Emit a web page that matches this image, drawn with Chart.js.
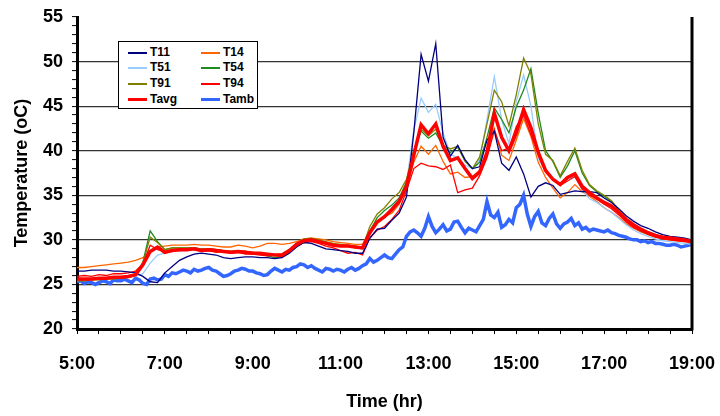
<!DOCTYPE html>
<html>
<head>
<meta charset="utf-8">
<script src="https://cdn.jsdelivr.net/npm/chart.js@4.4.0/dist/chart.umd.min.js"></script>
<style>
body{margin:0;background:#fff;}
#wrap{position:relative;width:720px;height:416px;}
#legend{position:absolute;left:118px;top:41px;width:138px;height:66px;border:1px solid #000;background:#fff;
  font:bold 12px "Liberation Sans",Arial,sans-serif;color:#000;}
.item{position:absolute;height:14px;line-height:14px;white-space:nowrap;}
.item i{display:inline-block;width:19px;vertical-align:middle;margin-right:3px;}
</style>
</head>
<body>
<div id="wrap">
<canvas id="chart" width="720" height="416"></canvas>
<div id="legend"></div>
</div>
<script>
// time axis: readings every 10 min (probes) and every 5 min (ambient)
var times10 = [];
for (var i = 0; i <= 84; i++) times10.push(5 + i / 6);
var times5 = [];
for (var j = 0; j <= 168; j++) times5.push(5 + j / 12);

var xTickLabels = ['5:00', '7:00', '9:00', '11:00', '13:00', '15:00', '17:00', '19:00'];

var t11 = [
 26.5, 26.5, 26.6, 26.6, 26.6, 26.5,
 26.5, 26.4, 26.3, 25.9, 25.3, 25.2,
 26.3, 27.0, 27.7, 28.1, 28.4, 28.5,
 28.4, 28.3, 28.0, 27.9, 28.0, 28.1,
 28.1, 28.0, 28.0, 27.9, 28.0, 28.5,
 29.2, 29.7, 29.6, 29.3, 29.0, 28.9,
 28.8, 28.7, 28.5, 28.5, 30.2, 31.2,
 31.3, 32.2, 33.0, 34.8, 42.0, 50.8,
 47.8, 52.0, 41.5, 39.4, 40.6, 39.0,
 38.0, 38.2, 41.2, 42.2, 38.6, 37.8,
 39.3, 37.4, 34.8, 36.0, 36.4, 36.1,
 35.1, 35.3, 35.5, 35.4, 35.4, 35.3,
 34.7, 34.2, 33.5, 32.7, 32.1, 31.6,
 31.3, 30.9, 30.6, 30.4, 30.3, 30.2,
 30.0];

var t14 = [
 26.9, 26.9, 27.0, 27.1, 27.2, 27.3,
 27.4, 27.5, 27.7, 28.0, 28.7, 29.2,
 29.3, 29.4, 29.4, 29.4, 29.5, 29.4,
 29.4, 29.3, 29.2, 29.2, 29.4, 29.3,
 29.1, 29.3, 29.6, 29.6, 29.5, 29.6,
 29.8, 30.1, 30.2, 30.1, 30.0, 29.8,
 29.7, 29.6, 29.5, 29.5, 31.0, 32.1,
 32.6, 33.0, 34.0, 36.0, 38.7, 40.5,
 39.6, 40.6, 38.8, 37.4, 37.6, 37.0,
 37.1, 37.8, 39.5, 42.5, 39.5, 38.9,
 41.2, 43.6, 41.6, 38.7, 37.0, 35.8,
 34.7, 35.3, 36.2, 35.4, 34.9, 34.3,
 33.6, 33.1, 32.5, 31.8, 31.3, 30.9,
 30.6, 30.3, 30.1, 30.0, 29.9, 29.8,
 29.7];

var t51 = [
 25.5, 25.5, 25.6, 25.6, 25.7, 25.7,
 25.8, 25.8, 25.9, 26.2, 27.4, 28.3,
 28.5, 28.7, 28.8, 28.8, 28.9, 28.8,
 28.8, 28.8, 28.7, 28.6, 28.7, 28.6,
 28.5, 28.5, 28.4, 28.3, 28.4, 28.8,
 29.5, 29.9, 30.0, 29.8, 29.6, 29.4,
 29.3, 29.3, 29.2, 29.2, 30.8, 31.9,
 32.5, 33.6, 34.6, 36.3, 42.3, 45.9,
 44.3, 45.2, 42.0, 39.6, 39.2, 38.4,
 38.0, 39.0, 43.5, 48.3, 43.5, 40.8,
 45.5, 48.5, 45.0, 39.2, 37.6, 36.8,
 36.3, 36.8, 37.1, 35.6, 34.6, 34.2,
 33.6, 33.1, 32.4, 31.7, 31.1, 30.7,
 30.4, 30.1, 29.9, 29.8, 29.7, 29.6,
 29.5];

var t54 = [
 25.5, 25.5, 25.6, 25.6, 25.7, 25.7,
 25.8, 25.9, 26.1, 27.5, 31.0, 29.8,
 28.9, 29.1, 29.1, 29.1, 29.1, 29.0,
 29.0, 28.9, 28.8, 28.7, 28.8, 28.7,
 28.6, 28.5, 28.2, 28.0, 28.1, 28.7,
 29.5, 30.0, 30.1, 29.9, 29.7, 29.5,
 29.4, 29.3, 29.1, 29.0, 31.0, 32.5,
 33.3, 33.9, 34.7, 36.5, 40.0, 42.2,
 41.4, 42.0, 40.5, 39.8, 40.4, 38.9,
 38.0, 38.7, 41.5, 44.8, 43.5, 42.0,
 44.9, 46.8, 49.2, 44.2, 40.0, 38.8,
 37.0, 38.3, 40.0, 37.5, 36.1, 35.4,
 34.9, 34.3, 33.3, 32.3, 31.5, 31.0,
 30.6, 30.4, 30.2, 30.1, 30.0, 29.9,
 29.9];

var t91 = [
 25.4, 25.4, 25.5, 25.5, 25.6, 25.6,
 25.7, 25.8, 26.0, 27.4, 30.3, 29.7,
 28.9, 29.1, 29.1, 29.1, 29.1, 29.0,
 29.0, 28.9, 28.8, 28.7, 28.8, 28.7,
 28.6, 28.5, 28.4, 28.3, 28.4, 28.9,
 29.6, 30.1, 30.2, 30.0, 29.8, 29.6,
 29.5, 29.4, 29.3, 29.2, 31.5, 32.9,
 33.6, 34.6, 35.3, 36.8, 40.0, 42.4,
 41.7, 42.4, 40.6, 40.2, 40.5, 38.8,
 38.0, 39.3, 43.0, 46.8, 45.5, 42.8,
 46.3, 50.4, 48.6, 43.0, 39.6, 38.9,
 37.2, 38.8, 40.3, 37.8, 36.2, 35.5,
 35.0, 34.4, 33.4, 32.4, 31.6, 31.1,
 30.7, 30.4, 30.2, 30.1, 30.0, 29.9,
 29.9];

var t94 = [
 25.9, 26.0, 25.9, 26.1, 26.0, 26.2,
 26.2, 26.3, 26.5, 27.3, 29.4, 28.9,
 28.7, 28.9, 28.8, 29.0, 28.9, 28.7,
 28.8, 28.6, 28.7, 28.5, 28.6, 28.4,
 28.4, 28.3, 28.2, 28.3, 28.1, 28.6,
 29.3, 29.7, 29.8, 29.6, 29.3, 29.1,
 28.8, 28.5, 28.6, 28.3, 30.2, 31.1,
 31.5, 32.3, 33.3, 35.5, 38.0, 38.6,
 38.3, 38.2, 37.9, 38.4, 35.3, 35.6,
 35.8, 37.2, 39.2, 42.3, 40.0, 40.3,
 42.7, 44.0, 41.8, 39.6, 37.6, 36.8,
 36.1, 36.6, 37.1, 35.7, 35.0, 34.6,
 34.0, 33.5, 32.8, 32.0, 31.4, 31.0,
 30.6, 30.3, 30.1, 30.0, 29.9, 29.8,
 29.7];

var tavg = [
 25.6, 25.6, 25.6, 25.7, 25.7, 25.8,
 25.8, 25.9, 26.1, 27.2, 28.7, 29.2,
 28.6, 28.8, 28.9, 28.9, 29.0, 28.8,
 28.9, 28.8, 28.7, 28.6, 28.7, 28.6,
 28.5, 28.5, 28.4, 28.3, 28.3, 28.8,
 29.5, 29.9, 30.0, 29.8, 29.6, 29.4,
 29.3, 29.3, 29.2, 29.1, 30.8, 32.0,
 32.6, 33.4, 34.3, 36.0, 39.5, 42.9,
 41.9, 43.0, 40.5, 38.9, 39.2, 38.0,
 36.9, 37.6, 39.8, 44.2, 41.5, 40.0,
 42.0, 44.6, 42.6, 39.8, 37.8, 36.8,
 36.2, 37.0, 37.4, 36.0, 35.3, 34.7,
 34.2, 33.8, 33.1, 32.3, 31.7, 31.2,
 30.8, 30.5, 30.3, 30.2, 30.1, 30.0,
 29.8];

var tamb = [
 25.3, 25.4, 25.1, 25.3, 25.2, 25.0, 25.2, 25.4, 25.3, 25.1, 25.5, 25.4,
 25.4, 25.6, 25.4, 25.2, 25.7, 25.5, 25.1, 25.0, 25.6, 25.7, 25.5, 25.6,
 26.1, 25.9, 26.3, 26.2, 26.4, 26.6, 26.5, 26.3, 26.7, 26.5, 26.6, 26.8,
 26.9, 26.6, 26.5, 26.2, 25.9, 26.0, 26.2, 26.5, 26.6, 26.8, 26.7, 26.5,
 26.5, 26.3, 26.2, 26.0, 26.1, 26.5, 26.8, 26.6, 26.4, 26.7, 26.6, 26.9,
 27.0, 27.3, 27.2, 26.9, 27.1, 26.8, 26.6, 26.4, 26.8, 26.7, 26.5, 26.7,
 26.6, 26.4, 26.7, 26.9, 26.6, 26.8, 27.1, 27.3, 27.9, 27.5, 27.7, 28.0,
 28.3, 28.0, 27.9, 28.4, 28.9, 29.2, 30.4, 30.9, 31.1, 30.8, 30.4, 31.3,
 32.6, 31.5, 30.8, 31.2, 31.7, 31.0, 31.2, 32.0, 32.1, 31.4, 30.8, 31.3,
 31.1, 30.9, 31.6, 32.3, 34.3, 32.8, 32.5, 33.1, 31.4, 31.7, 32.3, 31.9,
 33.6, 34.0, 35.0, 32.9, 31.5, 32.6, 33.2, 31.9, 31.6, 32.4, 32.9, 31.8,
 31.3, 31.8, 32.0, 32.4, 31.6, 31.9, 31.2, 31.4, 31.0, 31.2, 31.1, 31.0,
 30.9, 31.1, 30.8, 30.7, 30.5, 30.4, 30.3, 30.1, 30.0, 30.0, 29.8, 29.9,
 29.7, 29.8, 29.6, 29.6, 29.5, 29.4, 29.4, 29.5, 29.4, 29.2, 29.3, 29.4,
 29.5];

function pts(xs, ys) {
  return ys.map(function (y, k) { return { x: xs[k], y: y }; });
}

// legend order (two columns, like the original box)
var series = [
  { name: 'T11', color: '#000080', width: 1.3, data: pts(times10, t11) },
  { name: 'T14', color: '#ff6600', width: 1.3, data: pts(times10, t14) },
  { name: 'T51', color: '#99ccff', width: 1.3, data: pts(times10, t51) },
  { name: 'T54', color: '#1f8a1f', width: 1.3, data: pts(times10, t54) },
  { name: 'T91', color: '#808000', width: 1.3, data: pts(times10, t91) },
  { name: 'T94', color: '#ff0000', width: 1.3, data: pts(times10, t94) },
  { name: 'Tavg', color: '#ff0000', width: 3.5, data: pts(times10, tavg) },
  { name: 'Tamb', color: '#3366ff', width: 3.5, data: pts(times5, tamb) }
];

// draw order: first dataset ends up on top
var drawOrder = ['Tavg', 'T11', 'T94', 'T91', 'T54', 'T51', 'T14', 'Tamb'];
var datasets = drawOrder.map(function (n) {
  var s = series.filter(function (q) { return q.name === n; })[0];
  return {
    label: s.name, data: s.data, borderColor: s.color, backgroundColor: s.color,
    borderWidth: s.width, pointRadius: 0, tension: 0, fill: false
  };
});

// html legend
var leg = document.getElementById('legend');
var tops = [3, 18, 34, 50];
series.forEach(function (s, k) {
  var d = document.createElement('div');
  d.className = 'item';
  d.style.left = (k % 2 === 0 ? 9 : 82) + 'px';
  d.style.top = tops[Math.floor(k / 2)] + 'px';
  d.innerHTML = '<i style="height:' + (s.width > 2 ? 3 : 2) + 'px;background:' + s.color + '"></i>' + s.name;
  leg.appendChild(d);
});

var frame = {
  id: 'frame',
  afterDraw: function (c) {
    var a = c.chartArea, g = c.ctx;
    g.save();
    g.strokeStyle = '#000';
    g.lineWidth = 3;
    g.beginPath();
    g.moveTo(a.right, a.top);
    g.lineTo(a.right, a.bottom + 1.5);
    g.stroke();
    g.restore();
  }
};

Chart.defaults.font.family = '"Liberation Sans", Arial, sans-serif';
Chart.defaults.color = '#000';

new Chart(document.getElementById('chart'), {
  type: 'line',
  data: { datasets: datasets },
  options: {
    responsive: false,
    animation: false,
    devicePixelRatio: 1,
    layout: { padding: { top: 17, right: 28, left: 0, bottom: 0 } },
    plugins: { legend: { display: false }, tooltip: { enabled: false } },
    scales: {
      x: {
        type: 'linear', min: 5, max: 19,
        ticks: {
          stepSize: 0.5, autoSkip: false, maxRotation: 0, padding: 19,
          font: { size: 18, weight: 'bold' },
          callback: function (v) {
            var lab = (v % 2 === 1) ? v + ':00' : '';
            return xTickLabels.indexOf(lab) >= 0 ? lab : '';
          }
        },
        grid: { drawOnChartArea: false, drawTicks: true, tickLength: 5, tickColor: '#000', tickWidth: 1 },
        border: { color: '#000', width: 3 },
        title: { display: true, text: 'Time (hr)', font: { size: 18, weight: 'bold' }, padding: { top: 0, bottom: 3 } },
        afterFit: function (s) { s.height = 87; s.paddingLeft = 0; s.paddingRight = 0; }
      },
      y: {
        min: 20, max: 55,
        ticks: {
          stepSize: 1, autoSkip: false, padding: 9,
          font: { size: 18, weight: 'bold' },
          callback: function (v) { return v % 5 === 0 ? v : ''; }
        },
        grid: {
          color: function (ctx) {
            var v = ctx.tick ? ctx.tick.value : 0;
            return (v % 5 === 0 && v > 20 && v < 55) ? '#333' : 'rgba(0,0,0,0)';
          },
          lineWidth: 1.2, tickLength: 5, tickColor: '#000', tickWidth: 1
        },
        border: { color: '#000', width: 3 },
        title: { display: true, text: 'Temperature (oC)', font: { size: 18, weight: 'bold' }, padding: { top: 11, bottom: 11 } },
        afterFit: function (s) { s.width = 77; s.paddingTop = 0; s.paddingBottom = 0; }
      }
    }
  },
  plugins: [frame]
});
</script>
</body>
</html>
